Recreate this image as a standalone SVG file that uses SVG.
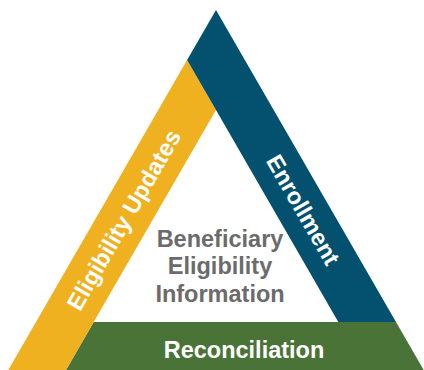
<svg xmlns="http://www.w3.org/2000/svg" width="424" height="370" viewBox="0 0 424 370">
  <style>
    .band-text { font-family: "Liberation Sans", Arial, sans-serif; font-weight: bold; font-size: 23.5px; fill: #ffffff; text-anchor: middle; }
    .center-text { font-family: "Liberation Sans", Arial, sans-serif; font-weight: bold; font-size: 23.5px; fill: #6b6b6b; text-anchor: middle; }
  </style>
  <rect width="424" height="370" fill="#ffffff"/>
  <g id="reconciliation">
    <polygon points="93.7,322 396,322 423.7,370 66,370" fill="#4a7337"/>
    <text class="band-text" x="244" y="358">Reconciliation</text>
  </g>
  <g id="eligibility-updates">
    <polygon points="187.1,60 216,110 66,370 8.3,370" fill="#f0b121"/>
    <text class="band-text" transform="translate(124,220) rotate(-60)" x="0" y="8">Eligibility Updates</text>
  </g>
  <g id="enrollment">
    <polygon points="216,10 396,322 338.3,322 216,110 187.1,60" fill="#03516f"/>
    <text class="band-text" transform="translate(303,210) rotate(60)" x="0" y="8">Enrollment</text>
  </g>
  <g id="beneficiary-eligibility-information">
    <text class="center-text" x="220" y="247">Beneficiary</text>
    <text class="center-text" x="220" y="274">Eligibility</text>
    <text class="center-text" x="220" y="302">Information</text>
  </g>
  <g id="connectors"></g>
</svg>
